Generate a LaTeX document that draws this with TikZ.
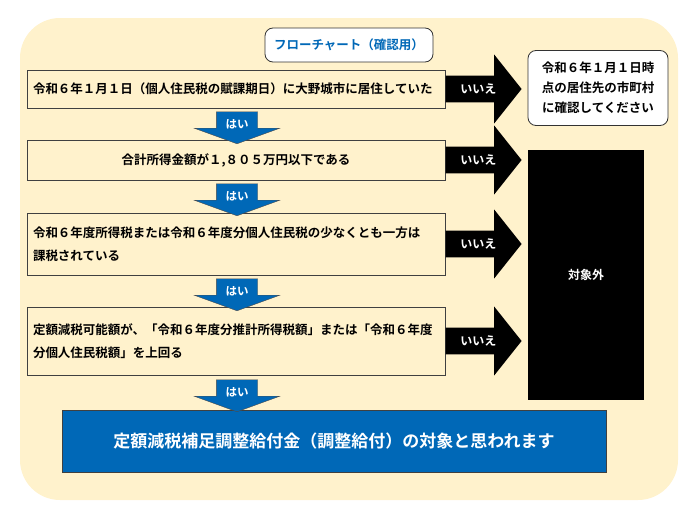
\documentclass[tikz,border=0pt]{standalone}
\usepackage{fontspec}
\setmainfont{Noto Sans CJK JP}[BoldFont={* Bold}]
\usetikzlibrary{shapes.arrows, positioning}
\definecolor{paper}{HTML}{FFF2CC}
\definecolor{flowblue}{HTML}{0068B7}
\tikzset{%
  qblock/.style={rectangle, draw=black!75, fill=paper, line width=0.8pt, minimum width=418pt, font=\bfseries\fontsize{12.5}{23}\selectfont, inner xsep=6pt},
  roundblock/.style={rectangle, draw=black!80, fill=white, rounded corners=8pt, line width=0.8pt, align=center},
  yesarrow/.style={single arrow, draw=black!70, fill=flowblue, text=white, shape border rotate=270, minimum height=32pt, single arrow head extend=22pt, single arrow tip angle=140, inner xsep=9pt, inner ysep=1pt, font=\bfseries\fontsize{11.5}{11}\selectfont},
  noarrow/.style={single arrow, fill=black, text=white, minimum height=76pt, single arrow head extend=21pt, single arrow tip angle=103, inner ysep=8pt, inner xsep=4pt, font=\bfseries\fontsize{12}{11}\selectfont}}
\begin{document}
\begin{tikzpicture}[x=1pt, y=-1pt]
    \useasboundingbox (0,0) rectangle (697,506);
    % Background
    \fill[paper, rounded corners=40pt] (20,18) rectangle (678,500);
    % Title
    \node (title) [roundblock, minimum width=168pt, minimum height=34pt, text=flowblue, font=\bfseries\fontsize{12.5}{14}\selectfont] at (349,45) {フローチャート（確認用）};
    % Questions
    \node (q1) [qblock, minimum height=38pt, text width=406pt, align=left] at (236,89) {令和６年１月１日（個人住民税の賦課期日）に大野城市に居住していた};
    \node (q2) [qblock, minimum height=40pt, text width=406pt, align=center] at (236,160) {合計所得金額が１,８０５万円以下である};
    \node (q3) [qblock, minimum height=62pt, text width=406pt, align=left] at (236,244) {令和６年度所得税または令和６年度分個人住民税の少なくとも一方は\\課税されている};
    \node (q4) [qblock, minimum height=68pt, text width=406pt, align=left] at (236,341) {定額減税可能額が、「令和６年度分推計所得税額」または「令和６年度\\分個人住民税額」を上回る};
    % Result
    \node (result) [rectangle, draw=black!75, fill=flowblue, text=white, line width=0.8pt, minimum width=544pt, minimum height=62pt, font=\bfseries\fontsize{17}{17}\selectfont] at (334,441) {定額減税補足調整給付金（調整給付）の対象と思われます};
    % Right side
    \node (other) [roundblock, minimum width=140pt, minimum height=75pt, font=\bfseries\fontsize{12.5}{20}\selectfont] at (598,88) {令和６年１月１日時\\点の居住先の市町村\\に確認してください};
    \node (outside) [rectangle, fill=black, text=white, minimum width=116pt, minimum height=250pt, font=\bfseries\fontsize{12}{11}\selectfont] at (586,275) {対象外};
    % Yes arrows
    \node (y1) [yesarrow] at (237,124) {はい};
    \node (y2) [yesarrow] at (237,196) {はい};
    \node (y3) [yesarrow] at (237,291) {はい};
    \node (y4) [yesarrow] at (237,392) {はい};
    % No arrows
    \node (n1) [noarrow, anchor=tail] at (q1.east) {いいえ};
    \node (n2) [noarrow, anchor=tail] at (q2.east) {いいえ};
    \node (n3) [noarrow, anchor=tail] at (q3.east) {いいえ};
    \node (n4) [noarrow, anchor=tail] at (q4.east) {いいえ};
\end{tikzpicture}
\end{document}
